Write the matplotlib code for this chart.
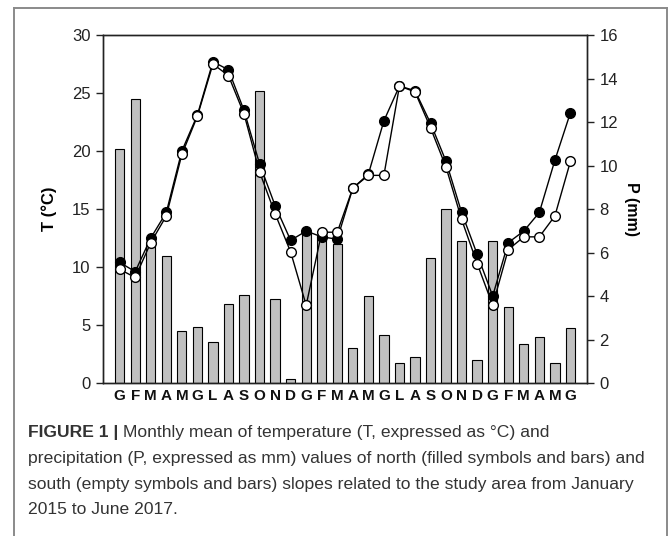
'''Monthly mean temperature (lines) and precipitation (bars), north vs south slopes,
January 2015 to June 2017'''

import numpy as np
import matplotlib
matplotlib.use('Agg')
import matplotlib.pyplot as plt
from matplotlib.lines import Line2D


# month labels (Italian initials), Jan 2015 -> Jun 2017
months = ['G', 'F', 'M', 'A', 'M', 'G', 'L', 'A', 'S', 'O', 'N', 'D',
          'G', 'F', 'M', 'A', 'M', 'G', 'L', 'A', 'S', 'O', 'N', 'D',
          'G', 'F', 'M', 'A', 'M', 'G']

# temperature (deg C), north = filled, south = empty
t_north = [10.4, 9.6, 12.5, 14.7, 20.0, 23.1, 27.7, 27.0, 23.5, 18.9, 15.3, 12.3,
           13.1, 12.6, 12.4, 16.8, 18.0, 22.6, 25.6, 25.2, 22.4, 19.1, 14.7, 11.1,
           7.5, 12.1, 13.1, 14.7, 19.2, 23.3]
t_south = [9.8, 9.1, 12.1, 14.4, 19.7, 23.0, 27.5, 26.5, 23.2, 18.2, 14.6, 11.3,
           6.7, 13.0, 13.0, 16.8, 17.9, 17.9, 25.6, 25.1, 22.0, 18.6, 14.1, 10.3,
           6.7, 11.5, 12.6, 12.6, 14.4, 19.1]

# precipitation (mm)
precip = [10.75, 13.05, 6.4, 5.85, 2.37, 2.56, 1.87, 3.63, 4.06, 13.44, 3.87, 0.18,
          6.95, 6.8, 6.4, 1.61, 3.98, 2.21, 0.92, 1.18, 5.76, 8.01, 6.51, 1.04,
          6.55, 3.49, 1.81, 2.11, 0.92, 2.54]

caption_lines = [
    'Monthly mean of temperature (T, expressed as \u00b0C) and',
    'precipitation (P, expressed as mm) values of north (filled symbols and bars) and',
    'south (empty symbols and bars) slopes related to the study area from January',
    '2015 to June 2017.',
]

plt.rcParams['font.family'] = ['Liberation Sans', 'DejaVu Sans']

fig = plt.figure(figsize=(6.69, 5.36), dpi=100)
ax = fig.add_axes([0.154, 0.2854, 0.7235, 0.6493])
ax2 = ax.twinx()

x = np.arange(len(months))

# bars on the precipitation axis, lines on top
ax2.bar(x, precip, width=0.6, color='#c0c0c0', edgecolor='black', linewidth=0.8)
ax.set_zorder(ax2.get_zorder() + 1)
ax.patch.set_visible(False)

ax.plot(x, t_north, color='black', lw=1, marker='o', ms=7,
        mfc='black', mec='black', zorder=3)
ax.plot(x, t_south, color='black', lw=1, marker='o', ms=7,
        mfc='white', mec='black', mew=1, zorder=4)

ax.set_xlim(-1.07, 30.07)
ax.set_ylim(0, 30)
ax2.set_ylim(0, 16)
ax.set_yticks(range(0, 31, 5))
ax2.set_yticks(range(0, 17, 2))

ax.set_xticks(x)
ax.set_xticklabels(months, fontweight='bold', fontsize=11)
ax.tick_params(axis='x', length=0, pad=4, colors='#111111')
ax.tick_params(axis='y', direction='out', length=5, width=1, labelsize=12,
               pad=4, colors='#222222')
ax2.tick_params(axis='y', direction='out', length=5, width=1, labelsize=12,
                pad=4, colors='#222222')

for a in (ax, ax2):
    for s in a.spines.values():
        s.set_linewidth(1)
        s.set_color('#222222')

ax.set_ylabel('T (\u00b0C)', fontsize=12, fontweight='bold', labelpad=11)
ax2.set_ylabel('P (mm)', fontsize=11.5, fontweight='bold', rotation=270,
               labelpad=15)

# frame around the figure panel (open at the bottom)
W, H = 669, 536
frame = dict(color='#8a8a8a', lw=1.4, transform=fig.transFigure)
fig.add_artist(Line2D([14 / W, 14 / W], [0, 1 - 8 / H], **frame))
fig.add_artist(Line2D([14 / W, 667 / W], [1 - 8 / H, 1 - 8 / H], **frame))
fig.add_artist(Line2D([667 / W, 667 / W], [0, 1 - 8 / H], **frame))

# caption
cap_color = '#333333'
cap_size = 12.6
y0 = 1 - 432 / H
dy = 26 / H
bold = fig.text(28 / W, y0, 'FIGURE 1 |', fontsize=cap_size, fontweight='bold',
                color=cap_color, va='center')
fig.canvas.draw()
bb = bold.get_window_extent(fig.canvas.get_renderer())
fig.text(bb.x1 / W + 5 / W, y0, caption_lines[0], fontsize=cap_size,
         color=cap_color, va='center')
for i, line in enumerate(caption_lines[1:], start=1):
    fig.text(28 / W, y0 - i * dy, line, fontsize=cap_size, color=cap_color,
             va='center')

plt.savefig('out.png', dpi=100)
